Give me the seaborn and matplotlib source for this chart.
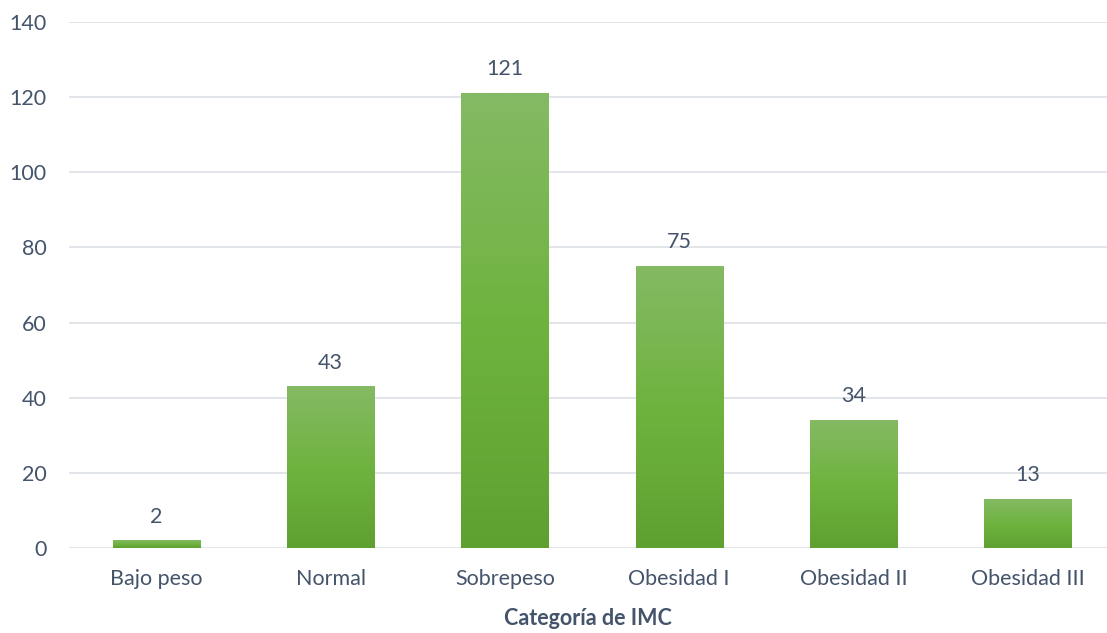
import numpy as np
import pandas as pd
import matplotlib
matplotlib.use("Agg")
import matplotlib.pyplot as plt
from matplotlib.colors import LinearSegmentedColormap
import seaborn as sns

# Datos
categorias = ["Bajo peso", "Normal", "Sobrepeso", "Obesidad I", "Obesidad II", "Obesidad III"]
conteos = [2, 43, 121, 75, 34, 13]
y_ticks = [0, 20, 40, 60, 80, 100, 120, 140]

df = pd.DataFrame({"categoria": categorias, "n": conteos})

sns.set_theme(style="white")
plt.rcParams["font.family"] = ["Lato", "DejaVu Sans"]

text_color = "#44546A"
grid_color = "#DCDFE5"
fs = 15.5

fig = plt.figure(figsize=(11.07, 6.33), dpi=100)
ax = fig.add_axes([69 / 1107, 85 / 633, 1 - 69 / 1107, (548 - 22) / 633])

sns.barplot(data=df, x="categoria", y="n", color="#70AD47", width=0.5,
            ax=ax, zorder=3)

# gradiente vertical en cada barra (claro arriba, oscuro abajo)
cmap = LinearSegmentedColormap.from_list("verde", ["#5FA131", "#6FB33F", "#84BA64"])
grad = np.linspace(0, 1, 256).reshape(-1, 1)
for bar in ax.patches:
    x, w, h = bar.get_x(), bar.get_width(), bar.get_height()
    im = ax.imshow(grad, extent=[x, x + w, 0, h], origin="lower", aspect="auto",
                   cmap=cmap, zorder=3)
    im.set_clip_path(bar)
    bar.set_facecolor("none")
    bar.set_edgecolor("none")

ax.bar_label(ax.containers[0], labels=[str(v) for v in conteos], padding=10,
             fontsize=fs, color=text_color)

ax.set_xlim(-0.5, 5.454)
ax.set_ylim(0, 140)
ax.set_yticks(y_ticks)
ax.yaxis.grid(True, color=grid_color, linewidth=1.2, zorder=0)
ax.set_axisbelow(True)
for s in ax.spines.values():
    s.set_visible(False)

ax.tick_params(axis="both", length=0, labelsize=fs, labelcolor=text_color)
ax.tick_params(axis="y", pad=16)
ax.tick_params(axis="x", pad=15)
ax.set_ylabel("")
ax.set_xlabel("Categoría de IMC", fontsize=fs, fontweight="bold",
              color=text_color, labelpad=14)

fig.savefig("out.png", dpi=100)
